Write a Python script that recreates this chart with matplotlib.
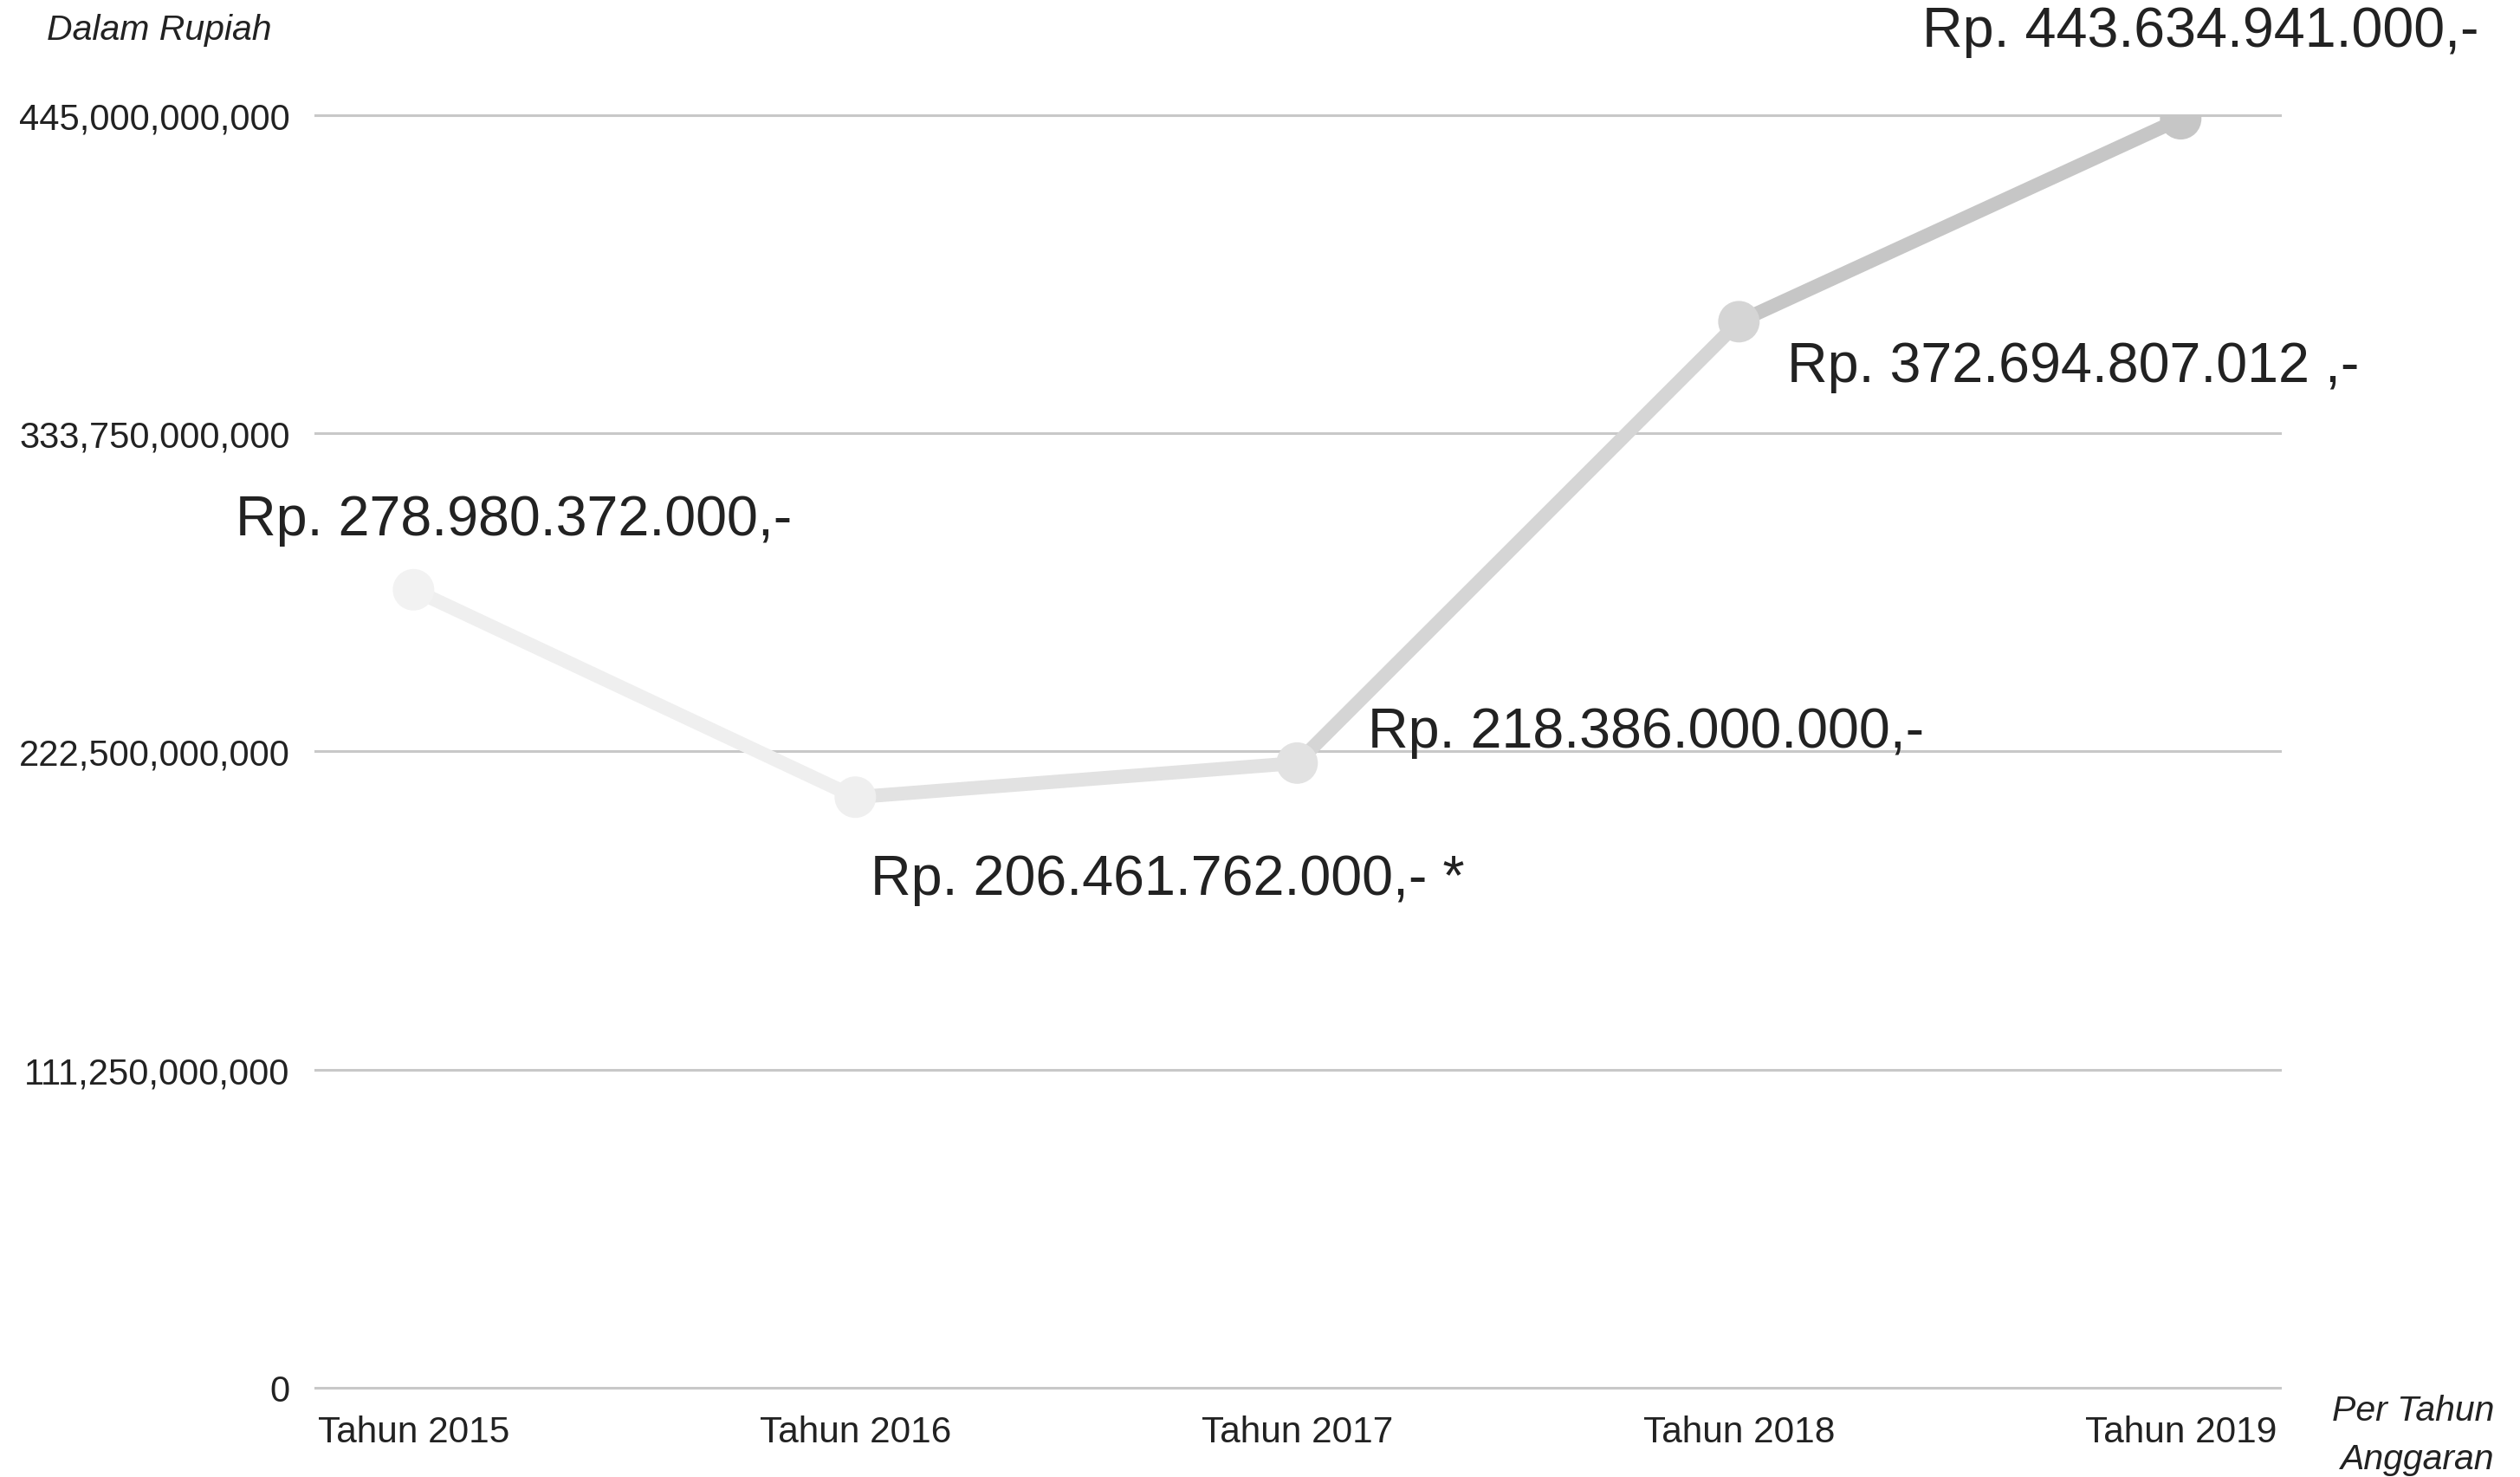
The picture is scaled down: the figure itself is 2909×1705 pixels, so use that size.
import matplotlib
matplotlib.use("Agg")
import matplotlib.pyplot as plt
from matplotlib.ticker import FuncFormatter

plt.rcParams['font.family'] = ['Liberation Sans', 'DejaVu Sans']

# Data
years = ["Tahun 2015", "Tahun 2016", "Tahun 2017", "Tahun 2018", "Tahun 2019"]
budget = [278980372000, 206461762000, 218386000000, 372694807012, 443634941000]
value_labels = [
    "Rp. 278.980.372.000,-",
    "Rp. 206.461.762.000,- *",
    "Rp. 218.386.000.000,-",
    "Rp. 372.694.807.012 ,-",
    "Rp. 443.634.941.000,-",
]
y_ticks = [0, 111250000000, 222500000000, 333750000000, 445000000000]

# Styling
point_colors = ["#f2f2f2", "#efefef", "#e2e2e2", "#d5d5d5", "#c6c6c6"]
label_offsets = [(-148, 58), (13, -68), (59, 26), (40, -37), (-215, 73)]
text_color = "#222222"
grid_color = "#c8c8c8"

fig = plt.figure(figsize=(29.09, 17.06), dpi=100)
ax = fig.add_axes([0.125, 0.0604, 0.7798, 0.8613])

x = list(range(len(years)))

# Segments, each tinted like the point it leads into
for i in range(len(x) - 1):
    ax.plot(x[i:i + 2], budget[i:i + 2], color=point_colors[i + 1],
            linewidth=11.5, solid_capstyle="butt", zorder=3)

ax.scatter(x, budget, s=34.5 ** 2, c=point_colors, edgecolors="none", zorder=4)

for xi, yi, lab, (dx, dy) in zip(x, budget, value_labels, label_offsets):
    ax.annotate(lab, (xi, yi), xytext=(dx, dy), textcoords="offset points",
                ha="left", va="center", fontsize=46.5, color=text_color, zorder=5)

ax.set_xlim(-0.223, 4.225)
ax.set_ylim(0, 445000000000)
ax.set_xticks(x)
ax.set_xticklabels(years)
ax.set_yticks(y_ticks)
ax.yaxis.set_major_formatter(FuncFormatter(lambda v, p: f"{int(round(v)):,}"))

ax.tick_params(axis="y", length=0, labelsize=30, colors=text_color, pad=21)
ax.tick_params(axis="x", length=0, labelsize=30.5, colors=text_color, pad=22)

ax.grid(axis="y", color=grid_color, linewidth=2.2)
ax.grid(axis="x", visible=False)
for gl in ax.get_ygridlines():
    gl.set_clip_on(False)
ax.set_axisbelow(True)
for s in ax.spines.values():
    s.set_visible(False)

fig.text(184 / 2909, 1 - 35 / 1706, "Dalam Rupiah", ha="center", va="center",
         fontsize=29.5, style="italic", color=text_color)
fig.text(2879 / 2909, 1 - 1629 / 1706, "Per Tahun", ha="right", va="center",
         fontsize=29.5, style="italic", color=text_color)
fig.text(2879 / 2909, 1 - 1685 / 1706, "Anggaran", ha="right", va="center",
         fontsize=29.5, style="italic", color=text_color)

fig.savefig("out.png", dpi=100, facecolor="white")
